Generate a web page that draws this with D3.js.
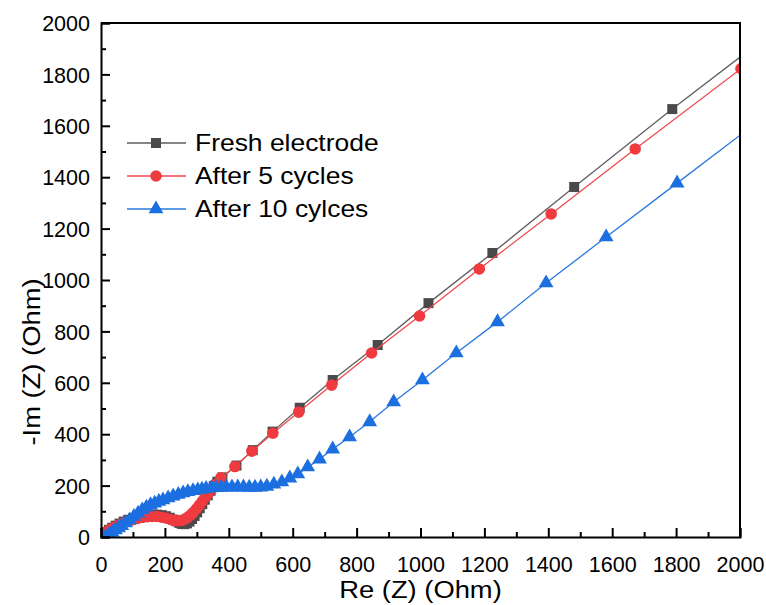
<!DOCTYPE html>
<html lang="en">
<head>
    <meta charset="UTF-8">
    <script src="https://d3js.org/d3.v7.min.js"></script>
    <title>Nyquist plot</title>
    <style>
        body { margin: 0; background: #fff; }
        text { font-family: "Liberation Sans", Arial, Helvetica, sans-serif; fill: #000; }
    </style>
</head>
<body>
    <div id="chart"></div>
    <script>
        // Re (Z) / -Im (Z), in Ohm
        const freshRe = [4, 10, 17, 25, 35, 46, 58, 71, 85, 100, 115, 130, 145, 160, 175, 190, 203, 215, 226, 236, 245, 253, 261, 269, 277, 285, 293, 301, 309, 317, 325, 334, 343, 353, 364, 380, 424, 475, 537, 622, 725, 866, 1025, 1225, 1481, 1788, 2150];
        const freshIm = [4, 12, 20, 28, 36, 44, 52, 60, 67, 73, 78, 82, 85, 87, 87, 85, 81, 75, 68, 61, 55, 51, 50, 53, 60, 70, 82, 96, 112, 128, 145, 162, 180, 198, 215, 232, 278, 338, 410, 503, 611, 747, 910, 1105, 1362, 1665, 2010];

        const cyc5Re = [5, 12, 20, 30, 42, 55, 70, 85, 100, 115, 130, 145, 160, 175, 190, 205, 218, 230, 242, 253, 263, 272, 281, 290, 299, 308, 317, 326, 336, 346, 357, 375, 419, 472, 538, 619, 722, 847, 997, 1184, 1409, 1672, 2003];
        const cyc5Im = [5, 15, 22, 30, 38, 46, 54, 61, 67, 72, 76, 79, 80, 80, 77, 73, 68, 64, 63, 65, 70, 77, 86, 97, 110, 124, 139, 154, 170, 186, 203, 230, 274, 334, 404, 486, 591, 716, 860, 1043, 1257, 1510, 1822];

        const cyc10Re = [15, 25, 35, 45, 55, 65, 77, 90, 103, 116, 129, 142, 155, 168, 181, 194, 210, 226, 242, 257, 272, 288, 303, 316, 329, 345, 360, 376, 392, 410, 428, 446, 464, 482, 500, 519, 541, 566, 591, 616, 647, 684, 725, 778, 841, 916, 1006, 1112, 1241, 1393, 1581, 1803, 2060];
        const cyc10Im = [3, 10, 18, 27, 35, 44, 55, 66, 80, 92, 105, 116, 125, 131, 138, 144, 152, 159, 165, 171, 176, 180, 183, 186, 189, 191, 192, 193, 194, 194, 194, 194, 193, 193, 194, 197, 205, 214, 229, 245, 272, 303, 342, 389, 448, 525, 611, 716, 837, 988, 1167, 1377, 1620];

        const seriesNames = ["Fresh electrode", "After 5 cycles", "After 10 cylces"];
        const xTicks = [0, 200, 400, 600, 800, 1000, 1200, 1400, 1600, 1800, 2000];
        const yTicks = [0, 200, 400, 600, 800, 1000, 1200, 1400, 1600, 1800, 2000];

        const width = 766, height = 605;
        const margin = { top: 23, right: 26, bottom: 68, left: 101 };
        const innerW = width - margin.left - margin.right;
        const innerH = height - margin.top - margin.bottom;

        const svg = d3.select("#chart").append("svg")
            .attr("width", width)
            .attr("height", height);

        const x = d3.scaleLinear().domain([0, 2000]).range([margin.left, margin.left + innerW]);
        const y = d3.scaleLinear().domain([0, 2000]).range([margin.top + innerH, margin.top]);

        svg.append("clipPath").attr("id", "plot-clip")
            .append("rect")
            .attr("x", margin.left).attr("y", margin.top)
            .attr("width", innerW).attr("height", innerH);

        const series = [
            { name: seriesNames[0], re: freshRe, im: freshIm, color: "#4a4a4a", line: "#5e5e5e", symbol: d3.symbolSquare, size: 100 },
            { name: seriesNames[1], re: cyc5Re, im: cyc5Im, color: "#ef3b3f", line: "#ef4a4d", symbol: d3.symbolCircle, size: 105 },
            { name: seriesNames[2], re: cyc10Re, im: cyc10Im, color: "#1c6fe0", line: "#2a78e2", symbol: d3.symbolTriangle, size: 95 }
        ];

        const plot = svg.append("g").attr("clip-path", "url(#plot-clip)");
        const line = d3.line().x(d => x(d[0])).y(d => y(d[1]));

        series.forEach(s => {
            const pts = s.re.map((v, i) => [v, s.im[i]]);
            plot.append("path")
                .datum(pts)
                .attr("fill", "none")
                .attr("stroke", s.line)
                .attr("stroke-width", 1.3)
                .attr("d", line);
            plot.append("g")
                .selectAll("path")
                .data(pts)
                .join("path")
                .attr("transform", d => `translate(${x(d[0])},${y(d[1])})`)
                .attr("d", d3.symbol().type(s.symbol).size(s.size))
                .attr("fill", s.color);
        });

        // axes with inward ticks
        const xMinor = d3.range(100, 2000, 200);
        const yMinor = d3.range(100, 2000, 200);

        svg.append("g")
            .attr("transform", `translate(0,${margin.top + innerH})`)
            .call(d3.axisBottom(x).tickValues(xTicks).tickSize(-9).tickPadding(20).tickFormat(d3.format("d")));
        svg.append("g")
            .attr("transform", `translate(0,${margin.top + innerH})`)
            .call(d3.axisBottom(x).tickValues(xMinor).tickSize(-5).tickFormat(""))
            .call(g => g.select(".domain").remove());

        const yAxis = svg.append("g")
            .attr("transform", `translate(${margin.left},0)`)
            .call(d3.axisLeft(y).tickValues(yTicks).tickSize(-9).tickPadding(11).tickFormat(d3.format("d")));
        svg.append("g")
            .attr("transform", `translate(${margin.left},0)`)
            .call(d3.axisLeft(y).tickValues(yMinor).tickSize(-5).tickFormat(""))
            .call(g => g.select(".domain").remove());

        svg.selectAll(".tick line").attr("stroke", "#000").attr("stroke-width", 2);
        svg.selectAll(".domain").attr("stroke", "#000").attr("stroke-width", 2);
        svg.selectAll(".tick text").style("font-size", "21.5px")
            .style("font-family", "'Liberation Sans', Arial, sans-serif");
        yAxis.selectAll(".tick text").attr("dy", "0.36em");

        // top and right frame
        svg.append("path")
            .attr("d", `M${margin.left},${margin.top}H${margin.left + innerW}V${margin.top + innerH}`)
            .attr("fill", "none")
            .attr("stroke", "#000")
            .attr("stroke-width", 2);

        // axis titles
        const midX = (margin.left * 2 + innerW) / 2;
        svg.append("text")
            .attr("x", midX)
            .attr("y", 598)
            .attr("text-anchor", "middle")
            .style("font-size", "24px")
            .attr("transform", `translate(${midX},0) scale(1.14,1) translate(${-midX},0)`)
            .text("Re (Z) (Ohm)");

        svg.append("text")
            .attr("transform", "translate(40,362) rotate(-90) scale(1.14,1)")
            .attr("text-anchor", "middle")
            .style("font-size", "24px")
            .text("-Im (Z) (Ohm)");

        // legend
        const legend = svg.append("g");
        series.forEach((s, i) => {
            const ly = 143 + i * 33;
            legend.append("line")
                .attr("x1", 127).attr("x2", 186)
                .attr("y1", ly).attr("y2", ly)
                .attr("stroke", s.line)
                .attr("stroke-width", 1.3);
            legend.append("path")
                .attr("transform", `translate(156,${ly})`)
                .attr("d", d3.symbol().type(s.symbol).size(s.size))
                .attr("fill", s.color);
            legend.append("text")
                .attr("x", 195)
                .attr("y", ly + 8)
                .style("font-size", "23px")
                .attr("transform", `translate(195,0) scale(1.15,1) translate(-195,0)`)
                .text(s.name);
        });
    </script>
</body>
</html>
